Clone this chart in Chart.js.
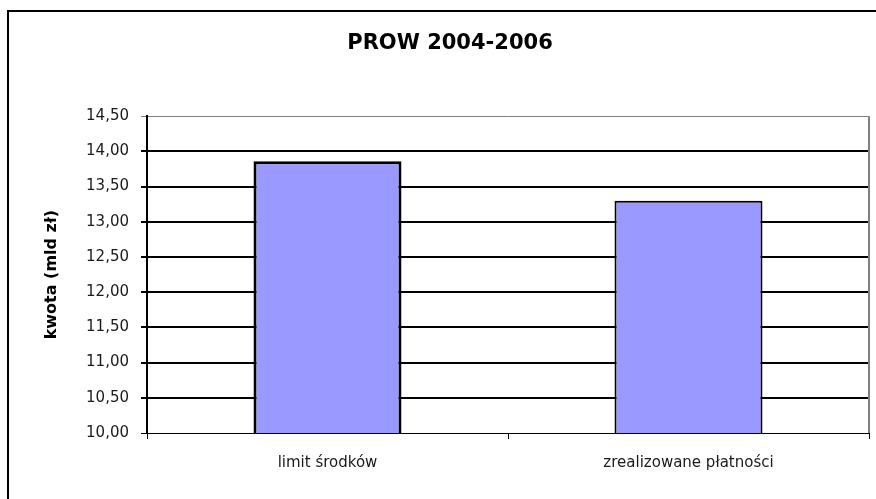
<!DOCTYPE html>
<html>
<head>
<meta charset="utf-8">
<script src="https://cdn.jsdelivr.net/npm/chart.js@4/dist/chart.umd.min.js"></script>
<style>
    html, body { margin: 0; padding: 0; background: #fff; overflow: hidden; width: 876px; height: 499px; }
    #ramka { position: absolute; left: 7px; top: 10px; width: 1000px; height: 1000px; border-left: 2px solid #000; border-top: 2px solid #000; }
    #wykres { position: absolute; left: 0; top: 0; }
</style>
</head>
<body>
<div id="ramka"></div>
<canvas id="wykres" width="900" height="499"></canvas>
<script>
const kategorie = ['limit środków', 'zrealizowane płatności'];
const kwoty = [13.86, 13.30];
const tytul = 'PROW 2004-2006';
const tytulOsi = 'kwota (mld zł)';

const ctx = document.getElementById('wykres');

// szara ramka po prawej stronie obszaru wykresu
const prawaKrawedz = {
    id: 'prawaKrawedz',
    afterDraw(chart) {
        const a = chart.chartArea;
        const c = chart.ctx;
        c.save();
        c.strokeStyle = '#808080';
        c.lineWidth = 2;
        c.beginPath();
        c.moveTo(a.right, a.top);
        c.lineTo(a.right, a.bottom);
        c.stroke();
        c.restore();
    }
};

const myChart = new Chart(ctx, {
    type: 'bar',
    data: {
        labels: kategorie,
        datasets: [{
            label: 'kwota',
            data: kwoty,
            backgroundColor: '#9999FF',
            borderColor: '#000000',
            borderWidth: [3, 2],
            barPercentage: 0.41,
            categoryPercentage: 1.0
        }]
    },
    options: {
        responsive: false,
        animation: false,
        layout: { padding: { left: 0, right: 0, top: 0, bottom: 28 } },
        plugins: {
            legend: { display: false },
            tooltip: { enabled: false },
            title: {
                display: true,
                text: tytul,
                color: '#000',
                font: { family: 'DejaVu Sans', size: 21, weight: 'bold' },
                padding: { top: 31, bottom: 60 }
            }
        },
        scales: {
            x: {
                afterFit(scale) { scale.height = 38; },
                border: { display: true, color: '#000', width: 1 },
                grid: {
                    drawOnChartArea: false,
                    drawTicks: true,
                    tickLength: 6,
                    color: '#000',
                    lineWidth: 1
                },
                ticks: {
                    color: '#1a1a1a',
                    padding: 15,
                    font: { family: 'DejaVu Sans', size: 15 }
                }
            },
            y: {
                min: 10,
                max: 14.5,
                afterFit(scale) { scale.width = 147; },
                border: { display: true, color: '#000', width: 2 },
                grid: {
                    tickLength: 6,
                    color: (c) => c.tick && c.tick.value === 14.5 ? '#808080' : '#000',
                    lineWidth: (c) => c.tick && (c.tick.value === 14.5 || c.tick.value === 10) ? 1 : 2
                },
                ticks: {
                    stepSize: 0.5,
                    color: '#1a1a1a',
                    padding: 12,
                    font: { family: 'DejaVu Sans', size: 15 },
                    callback: (v) => Number(v).toFixed(2).replace('.', ',')
                },
                title: {
                    display: true,
                    text: tytulOsi,
                    color: '#000',
                    font: { family: 'DejaVu Sans', size: 16, weight: 'bold' },
                    padding: { top: 42, bottom: 0 }
                }
            },
            // pusty margines po prawej, żeby tytuł był wyśrodkowany na ramce
            margines: {
                type: 'linear',
                position: 'right',
                afterFit(scale) { scale.width = 31; },
                border: { display: false },
                grid: { display: false },
                ticks: { display: false }
            }
        }
    },
    plugins: [prawaKrawedz]
});
</script>
</body>
</html>
